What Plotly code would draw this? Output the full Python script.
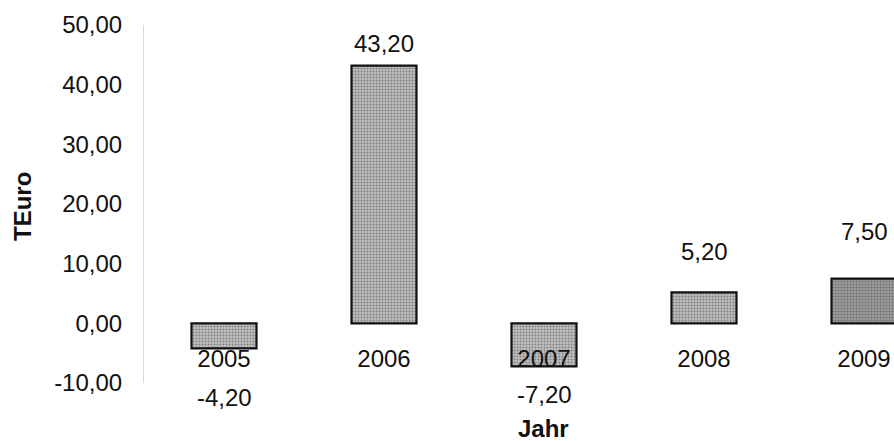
import plotly.graph_objects as go

# ---- data ----
years = ["2005", "2006", "2007", "2008", "2009"]
values = [-4.2, 43.2, -7.2, 5.2, 7.5]
y_ticks = [-10, 0, 10, 20, 30, 40, 50]

# ---- styling ----
FONT = "Liberation Sans, Arial, sans-serif"
FS = 24
fill_bg = ["#bfbfbf", "#bcbcbc", "#bfbfbf", "#bcbcbc", "#9c9c9c"]
fill_fg = ["#8c8c8c", "#8c8c8c", "#8c8c8c", "#8c8c8c", "#555555"]
label_yshift = [-49, 22, -28, 41, 47]

W, H = 894, 441
L, R, T, B = 144, 0, 25, 58


def fmt(v):
    return f"{v:.2f}".replace(".", ",")


fig = go.Figure()
fig.add_trace(go.Bar(
    x=years, y=values,
    marker=dict(
        color=fill_bg,
        line=dict(color="#111111", width=2.2),
        pattern=dict(shape=".", fgcolor=fill_fg, size=3, solidity=0.35,
                     fillmode="overlay"),
    ),
    width=65 / 160,
    hoverinfo="skip",
))

for i, (v, sh) in enumerate(zip(values, label_yshift)):
    fig.add_annotation(x=i, y=v, xref="x", yref="y", text=fmt(v),
                       showarrow=False, yshift=sh, yanchor="middle",
                       font=dict(family=FONT, size=FS, color="#111111"))

ymin, ymax = -10, 50
fig.update_layout(
    width=W, height=H,
    margin=dict(l=L, r=R, t=T, b=B, pad=0),
    plot_bgcolor="white", paper_bgcolor="white",
    showlegend=False,
    font=dict(family=FONT, size=FS, color="#111111"),
    xaxis=dict(
        type="category",
        range=[-0.5, -0.5 + (W - L - R) / 160],
        anchor="free",
        position=(0 - ymin) / (ymax - ymin),
        showline=False, showgrid=False, zeroline=False,
        ticks="", ticklabelstandoff=19,
        tickfont=dict(family=FONT, size=FS, color="#111111"),
    ),
    yaxis=dict(
        range=[ymin, ymax],
        tickmode="array",
        tickvals=y_ticks,
        ticktext=[fmt(t) for t in y_ticks],
        showgrid=False, zeroline=False,
        showline=True, linecolor="#d8d8d8", linewidth=1,
        ticks="", ticklabelstandoff=16,
        tickfont=dict(family=FONT, size=FS, color="#111111"),
    ),
)

# axis titles
fig.add_annotation(text="<b>TEuro</b>", xref="paper", yref="paper",
                   x=(22 - L) / (W - L - R), y=(H - B - 207) / (H - T - B),
                   textangle=-90, showarrow=False, xanchor="center", yanchor="middle",
                   font=dict(family=FONT, size=FS, color="#111111"))
fig.add_annotation(text="<b>Jahr</b>", xref="paper", yref="paper",
                   x=(543 - L) / (W - L - R), y=(H - B - 428) / (H - T - B),
                   showarrow=False, xanchor="center", yanchor="middle",
                   font=dict(family=FONT, size=FS, color="#111111"))

fig.write_html("out.html",
               config={"displayModeBar": False},
               post_script="document.body.style.margin='0';document.body.style.overflow='hidden';")
